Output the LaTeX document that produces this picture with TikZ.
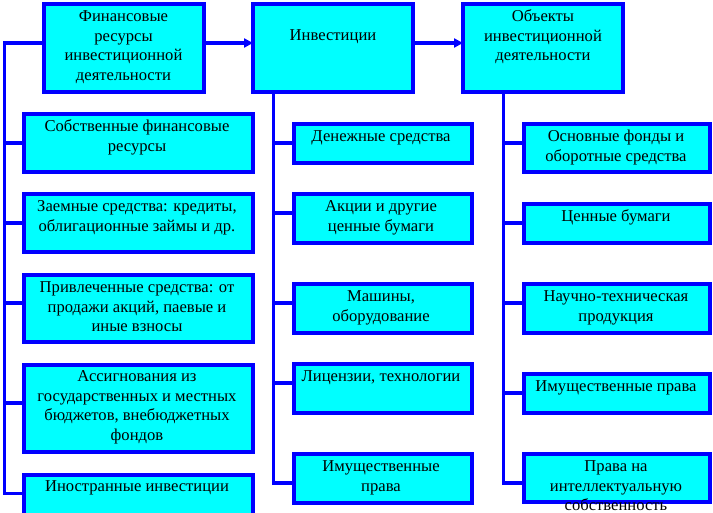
\documentclass[tikz,border=0pt]{standalone}
\usepackage{fontspec}
\setmainfont{Liberation Serif}
\usetikzlibrary{arrows.meta}
\definecolor{boxblue}{RGB}{0,0,255}
\definecolor{boxfill}{RGB}{0,255,255}
\begin{document}
\begin{tikzpicture}[x=1pt,y=-1pt,
  box/.style={draw=boxblue, fill=boxfill, line width=4pt, inner sep=0pt, outer sep=0pt},
  txt/.style={anchor=north, align=center, inner sep=0pt, font=\fontsize{16.6}{19.5}\selectfont, text=black},
  conn/.style={draw=boxblue, line width=3.5pt},
  arr/.style={conn, -{Triangle[length=9pt,width=9pt]}}]
\useasboundingbox (0,0) rectangle (713,513);
% top row
\node[box, minimum width=160pt, minimum height=88pt] (A) at (123.5,48) {};
\node[box, minimum width=160pt, minimum height=88pt] (B) at (333,48) {};
\node[box, minimum width=160pt, minimum height=88pt] (C) at (543,48) {};
\node[txt] (tA) at (123.5,8) {\strut Финансовые\\ресурсы\\инвестиционной\\деятельности};
\node[txt] (tB) at (333,27) {\strut Инвестиции};
\node[txt] (tC) at (543,8) {\strut Объекты\\инвестиционной\\деятельности};
% left column
\node[box, minimum width=229pt, minimum height=58pt] (F1) at (138.5,143) {};
\node[box, minimum width=229pt, minimum height=58pt] (F2) at (138.5,223) {};
\node[box, minimum width=229pt, minimum height=67pt] (F3) at (138.5,308.5) {};
\node[box, minimum width=229pt, minimum height=87pt] (F4) at (138.5,408.5) {};
\node[box, minimum width=229pt, minimum height=45pt] (F5) at (138.5,497.5) {};
\node[txt] (tF1) at (137,118) {\strut Собственные финансовые\\ресурсы};
\node[txt] (tF2) at (137,198) {\strut Заемные средства: кредиты,\\облигационные займы и др.};
\node[txt] (tF3) at (137,279) {\strut Привлеченные средства: от\\продажи акций, паевые и\\иные взносы};
\node[txt] (tF4) at (137,368) {\strut Ассигнования из\\государственных и местных\\бюджетов, внебюджетных\\фондов};
\node[txt] (tF5) at (137,478) {\strut Иностранные инвестиции};
% middle column
\node[box, minimum width=178pt, minimum height=39pt] (M1) at (383,143.5) {};
\node[box, minimum width=178pt, minimum height=49pt] (M2) at (383,218.5) {};
\node[box, minimum width=178pt, minimum height=49pt] (M3) at (383,308.5) {};
\node[box, minimum width=178pt, minimum height=49pt] (M4) at (383,388.5) {};
\node[box, minimum width=178pt, minimum height=49pt] (M5) at (383,478.5) {};
\node[txt] (tM1) at (381,128) {\strut Денежные средства};
\node[txt] (tM2) at (381,198) {\strut Акции и другие\\ценные бумаги};
\node[txt] (tM3) at (381,288) {\strut Машины,\\оборудование};
\node[txt] (tM4) at (381,368) {\strut Лицензии, технологии};
\node[txt] (tM5) at (381,458) {\strut Имущественные\\права};
% right column
\node[box, minimum width=186.5pt, minimum height=48pt] (R1) at (617,148) {};
\node[box, minimum width=186.5pt, minimum height=39pt] (R2) at (617,223.5) {};
\node[box, minimum width=186.5pt, minimum height=49pt] (R3) at (617,308.5) {};
\node[box, minimum width=186.5pt, minimum height=39pt] (R4) at (617,393.5) {};
\node[box, minimum width=186.5pt, minimum height=48pt] (R5) at (617,478) {};
\node[txt] (tR1) at (616,128) {\strut Основные фонды и\\оборотные средства};
\node[txt] (tR2) at (616,208) {\strut Ценные бумаги};
\node[txt] (tR3) at (616,288) {\strut Научно-техническая\\продукция};
\node[txt] (tR4) at (616,378) {\strut Имущественные права};
\node[txt] (tR5) at (616,458) {\strut Права на\\интеллектуальную\\собственность};
% top arrows
\draw[arr] (A.east |- 0,43) -- (B.west |- 0,43);
\draw[arr] (B.east |- 0,43) -- (C.west |- 0,43);
% left trunk
\coordinate (L) at (4.3,43);
\draw[conn] (A.west |- L) -- (L) -- (L |- 0,493.5) -- (F5.west |- 0,493.5);
\draw[conn] (L |- F1.west) -- (F1.west);
\draw[conn] (L |- F2.west) -- (F2.west);
\draw[conn] (L |- 0,303) -- (F3.west |- 0,303);
\draw[conn] (L |- 0,403) -- (F4.west |- 0,403);
% middle trunk
\coordinate (Mt) at (273.5,483);
\draw[conn] (B.south -| Mt) -- (Mt) -- (M5.west |- Mt);
\draw[conn] (Mt |- 0,143) -- (M1.west |- 0,143);
\draw[conn] (Mt |- 0,213) -- (M2.west |- 0,213);
\draw[conn] (Mt |- 0,303) -- (M3.west |- 0,303);
\draw[conn] (Mt |- 0,383) -- (M4.west |- 0,383);
% right trunk
\coordinate (Rt) at (503.5,483);
\draw[conn] (C.south -| Rt) -- (Rt) -- (R5.west |- Rt);
\draw[conn] (Rt |- 0,143) -- (R1.west |- 0,143);
\draw[conn] (Rt |- 0,223) -- (R2.west |- 0,223);
\draw[conn] (Rt |- 0,303) -- (R3.west |- 0,303);
\draw[conn] (Rt |- 0,393) -- (R4.west |- 0,393);
\end{tikzpicture}
\end{document}
